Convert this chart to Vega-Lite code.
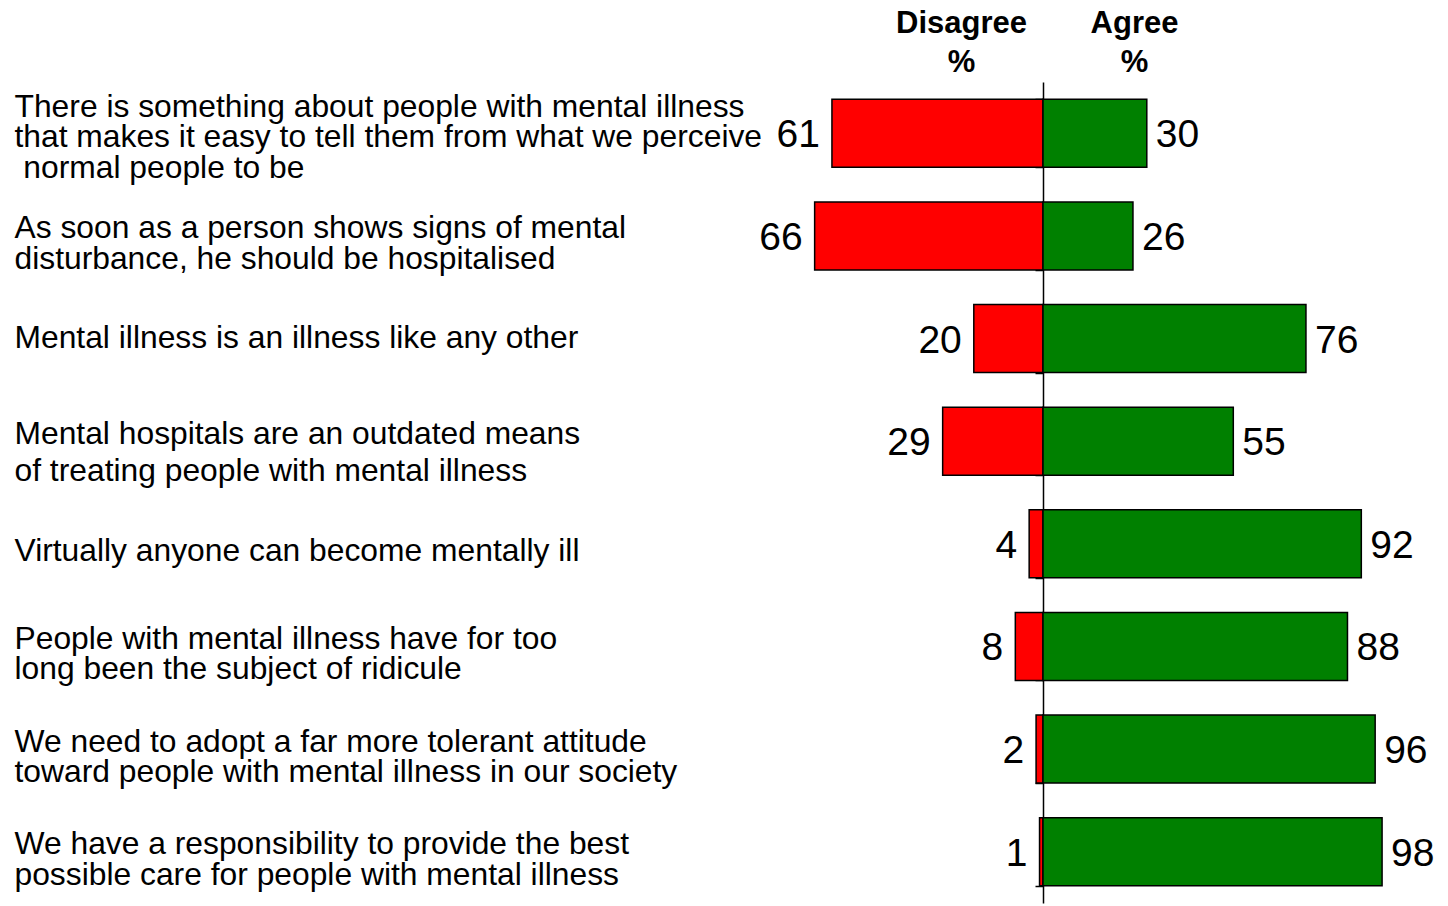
{
  "$schema": "https://vega.github.io/schema/vega-lite/v6.json",
  "autosize": {"type": "none"},
  "padding": {"left": 697, "top": 82, "right": 59, "bottom": 3},
  "width": 692,
  "height": 821,
  "background": "white",
  "config": {"view": {"stroke": null}, "font": "Liberation Sans"},
  "data": {
    "values": [
      {"q": "There is something about people with mental illness|that makes it easy to tell them from what we perceive|\u200b\u00a0normal people to be", "disagree": 61, "agree": 30},
      {"q": "As soon as a person shows signs of mental|disturbance, he should be hospitalised", "disagree": 66, "agree": 26},
      {"q": "Mental illness is an illness like any other", "disagree": 20, "agree": 76},
      {"q": "Mental hospitals are an outdated means|of treating people with mental illness", "disagree": 29, "agree": 55},
      {"q": "Virtually anyone can become mentally ill", "disagree": 4, "agree": 92},
      {"q": "People with mental illness have for too|long been the subject of ridicule", "disagree": 8, "agree": 88},
      {"q": "We need to adopt a far more tolerant attitude|toward people with mental illness in our society", "disagree": 2, "agree": 96},
      {"q": "We have a responsibility to provide the best|possible care for people with mental illness", "disagree": 1, "agree": 98}
    ]
  },
  "encoding": {
    "y": {
      "field": "q", "type": "nominal", "sort": null,
      "scale": {"paddingInner": 0.337, "paddingOuter": 0.1685},
      "axis": {
        "title": null, "orient": "left", "offset": -346, "grid": false,
        "domain": true, "domainColor": "black", "domainWidth": 1.5,
        "ticks": true, "tickSize": 8, "tickColor": "black", "tickWidth": 1.5, "tickBand": "extent",
        "labelAlign": "left", "labelPadding": 1021, "labelFontSize": 31.8, "labelColor": "black",
        "labelFont": "Liberation Sans", "labelLimit": 0,
        "labelExpr": "split(datum.label, '|')",
        "labelLineHeight": {"expr": "datum.value == 'Mental hospitals are an outdated means|of treating people with mental illness' ? 37.5 : 30.5"},
        "labelOffset": {"expr": "datum.value == 'Mental illness is an illness like any other' ? -1.5 : datum.value == 'Virtually anyone can become mentally ill' ? 6.5 : datum.value == 'Mental hospitals are an outdated means|of treating people with mental illness' ? -8 : datum.value == 'As soon as a person shows signs of mental|disturbance, he should be hospitalised' ? -8 : datum.value == 'People with mental illness have for too|long been the subject of ridicule' ? -8 : datum.value == 'We need to adopt a far more tolerant attitude|toward people with mental illness in our society' ? -8 : datum.value == 'We have a responsibility to provide the best|possible care for people with mental illness' ? -8 : -27"}
      }
    }
  },
  "layer": [
    {
      "encoding": {"x": {"field": "disagree", "type": "quantitative", "scale": {"domain": [-100, 100], "reverse": true}, "axis": null}},
      "layer": [
        {"mark": {"type": "bar", "color": "#ff0000", "stroke": "black", "strokeWidth": 1.5}},
        {
          "mark": {"type": "text", "align": "right", "baseline": "middle", "dx": -12, "dy": 2, "fontSize": 39, "color": "black", "font": "Liberation Sans"},
          "encoding": {"text": {"field": "disagree", "type": "quantitative"}}
        }
      ]
    },
    {
      "encoding": {"x": {"field": "agree", "type": "quantitative", "scale": {"domain": [-100, 100]},
        "axis": {"orient": "top", "title": null, "domain": false, "ticks": false, "tickSize": 0, "grid": false,
          "values": [-23.7, 26.3], "labelExpr": "datum.value < 0 ? ['Disagree', '%'] : ['Agree', '%']",
          "labelFontSize": 31, "labelFontWeight": "bold", "labelColor": "black", "labelFont": "Liberation Sans",
          "labelLineHeight": 39, "labelBaseline": "bottom", "labelPadding": 43, "labelAlign": "center", "labelFlush": false, "labelOverlap": false}}},
      "layer": [
        {"mark": {"type": "bar", "color": "#008000", "stroke": "black", "strokeWidth": 1.5}},
        {
          "mark": {"type": "text", "align": "left", "baseline": "middle", "dx": 9, "dy": 2, "fontSize": 39, "color": "black", "font": "Liberation Sans"},
          "encoding": {"text": {"field": "agree", "type": "quantitative"}}
        }
      ]
    }
  ],
  "resolve": {"scale": {"x": "independent"}}
}
